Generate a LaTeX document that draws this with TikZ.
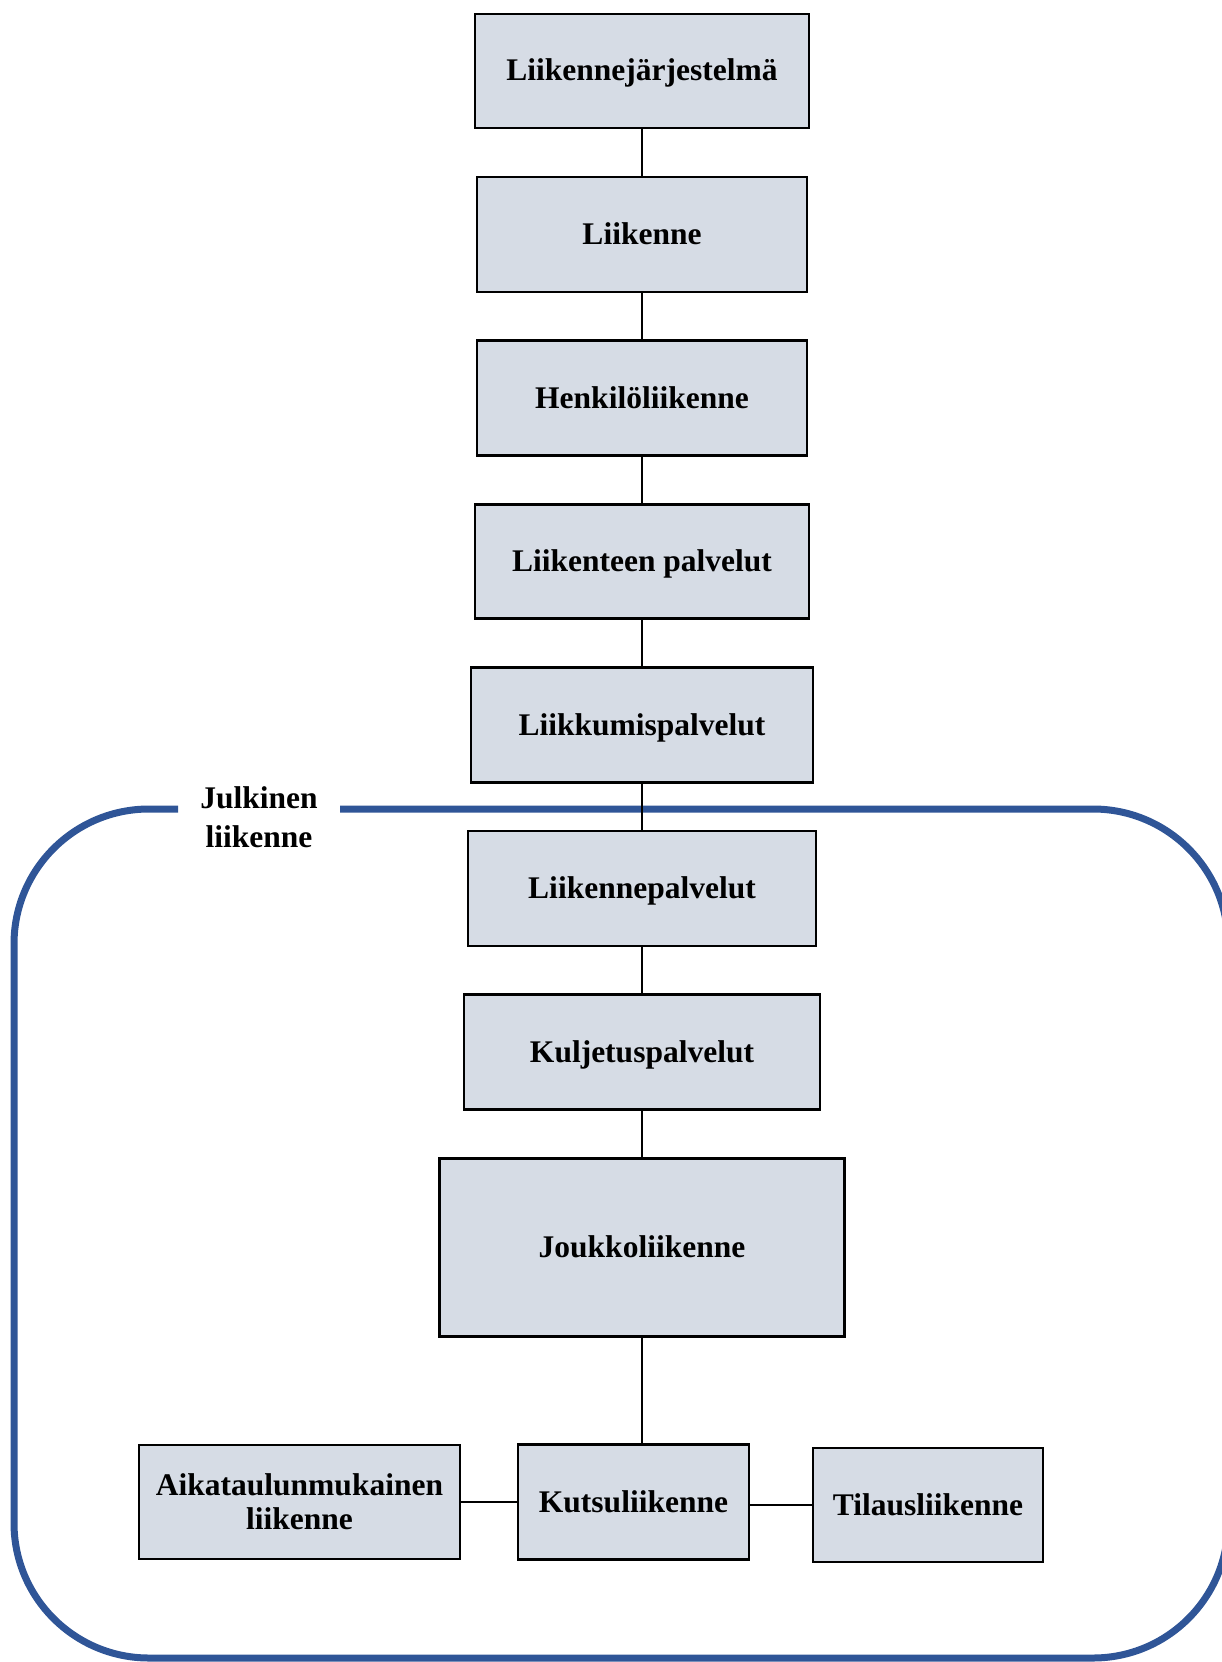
\documentclass[tikz,border=0pt]{standalone}
\usepackage{fontspec}
\setmainfont{Liberation Serif}
\usetikzlibrary{positioning}
\definecolor{boxfill}{HTML}{D6DCE5}
\definecolor{frameblue}{HTML}{2F5597}

\begin{document}
\begin{tikzpicture}[x=1pt,y=1pt,node distance=163.5pt,on grid,
  txt/.style={align=center,font=\fontsize{31.5}{34}\selectfont\bfseries},
  box/.style={txt,draw,line width=2.5pt,fill=boxfill,minimum height=115pt,inner sep=0pt},
  oneline/.style={box,text height=22pt,text depth=2pt}]
\useasboundingbox (0,0) rectangle (1221,-1662);

% julkinen liikenne frame
\draw[frameblue,line width=7pt,rounded corners=135pt]
  (340,-809) -- (1228,-809) -- (1228,-1658) -- (14,-1658) -- (14,-809) -- (178,-809);
\node[txt,font=\fontsize{31.5}{39}\selectfont\bfseries] (julk) at (259,-817) {Julkinen\\liikenne};

\node[oneline,minimum width=334pt,minimum height=114pt] (ljarj) at (642,-71) {Liikennejärjestelmä};
\node[oneline,minimum width=330pt] (liik) [below=of ljarj] {Liikenne};
\node[oneline,minimum width=330pt] (henk) [below=of liik] {Henkilöliikenne};
\node[oneline,minimum width=334pt,minimum height=114pt] (palv) [below=of henk] {Liikenteen palvelut};
\node[oneline,minimum width=342pt] (liikk) [below=of palv] {Liikkumispalvelut};
\node[oneline,minimum width=348pt] (lpalv) [below=of liikk] {Liikennepalvelut};
\node[oneline,minimum width=356pt] (kulj) [below=of lpalv] {Kuljetuspalvelut};
\node[oneline,minimum width=405pt,minimum height=178pt] (jouk) [below=195.5pt of kulj] {Joukkoliikenne};

% bottom row
\node[oneline,minimum width=231pt] (kuts) [below left=254.5pt and 8.5pt of jouk] {Kutsuliikenne};
\node[box,minimum width=321pt,minimum height=114pt] (aika) [left=334pt of kuts] {Aikataulunmukainen\\liikenne};
\node[oneline,minimum width=230pt,minimum height=114pt] (tila) [below right=3pt and 294.5pt of kuts] {Tilausliikenne};

\path[line width=2.5pt]
(ljarj) edge (liik)
(liik) edge (henk)
(henk) edge (palv)
(palv) edge (liikk)
(liikk) edge (lpalv)
(lpalv) edge (kulj)
(kulj) edge (jouk)
(jouk.south) edge (jouk.south |- kuts.north)
(aika.east) edge (aika.east -| kuts.west)
(kuts.east |- tila) edge (tila.west)
;
\end{tikzpicture}
\end{document}
